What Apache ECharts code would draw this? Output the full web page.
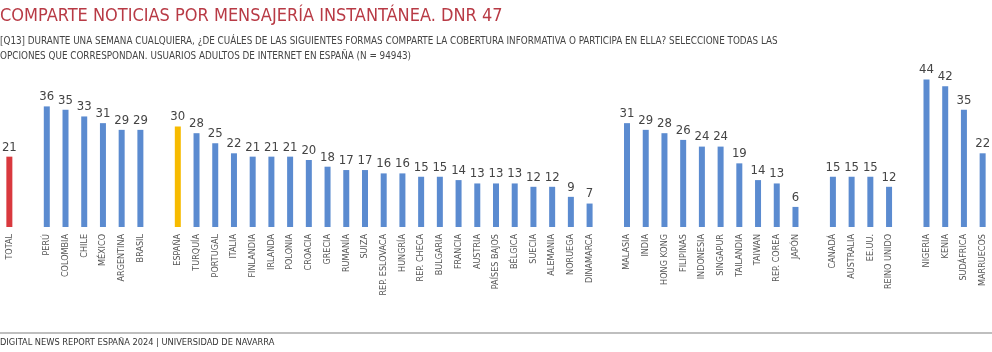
<!DOCTYPE html>
<html>
<head>
<meta charset="utf-8">
<script src="https://cdn.jsdelivr.net/npm/echarts@6/dist/echarts.min.js"></script>
<style>
  html, body { margin: 0; padding: 0; background: #fff; }
  #chart { width: 992px; height: 352px; }
</style>
</head>
<body>
<div id="chart"></div>
<script>
// categorías con huecos ('') entre grupos de países
const categories = [
    'TOTAL', '',
    'PERÚ', 'COLOMBIA', 'CHILE', 'MÉXICO', 'ARGENTINA', 'BRASIL', '',
    'ESPAÑA', 'TURQUÍA', 'PORTUGAL', 'ITALIA', 'FINLANDIA', 'IRLANDA', 'POLONIA', 'CROACIA',
    'GRECIA', 'RUMANÍA', 'SUIZA', 'REP. ESLOVACA', 'HUNGRÍA', 'REP. CHECA', 'BULGARIA', 'FRANCIA',
    'AUSTRIA', 'PAÍSES BAJOS', 'BÉLGICA', 'SUECIA', 'ALEMANIA', 'NORUEGA', 'DINAMARCA', '',
    'MALASIA', 'INDIA', 'HONG KONG', 'FILIPINAS', 'INDONESIA', 'SINGAPUR', 'TAILANDIA', 'TAIWAN',
    'REP. COREA', 'JAPÓN', '',
    'CANADÁ', 'AUSTRALIA', 'EE.UU.', 'REINO UNIDO', '',
    'NIGERIA', 'KENIA', 'SUDÁFRICA', 'MARRUECOS'
];
const values = [
    21, null,
    36, 35, 33, 31, 29, 29, null,
    30, 28, 25, 22, 21, 21, 21, 20,
    18, 17, 17, 16, 16, 15, 15, 14,
    13, 13, 13, 12, 12, 9, 7, null,
    31, 29, 28, 26, 24, 24, 19, 14,
    13, 6, null,
    15, 15, 15, 12, null,
    44, 42, 35, 22
];
const highlight = { 'TOTAL': '#d9393e', 'ESPAÑA': '#f7bb00' };
const barColor = '#5b8bd0';
const font = "'DejaVu Sans Condensed', 'Liberation Sans Narrow', 'Liberation Sans', sans-serif";

const chart = echarts.init(document.getElementById('chart'));

const option = {
    animation: false,
    title: [
        {
            text: 'COMPARTE NOTICIAS POR MENSAJERÍA INSTANTÁNEA. DNR 47',
            left: 0, top: 7, padding: 0,
            textStyle: { color: '#b83a45', fontSize: 18, lineHeight: 18, fontWeight: 'normal', fontFamily: font }
        },
        {
            text: '[Q13] DURANTE UNA SEMANA CUALQUIERA, ¿DE CUÁLES DE LAS SIGUIENTES FORMAS COMPARTE LA COBERTURA INFORMATIVA O PARTICIPA EN ELLA? SELECCIONE TODAS LAS\nOPCIONES QUE CORRESPONDAN. USUARIOS ADULTOS DE INTERNET EN ESPAÑA (N = 94943)',
            left: 0, top: 34, padding: 0,
            textStyle: { color: '#444', fontSize: 9.8, fontWeight: 'normal', lineHeight: 15, fontFamily: font }
        },
        {
            text: 'DIGITAL NEWS REPORT ESPAÑA 2024 | UNIVERSIDAD DE NAVARRA',
            left: 0, top: 338, padding: 0,
            textStyle: { color: '#333', fontSize: 9.2, lineHeight: 10, fontWeight: 'normal', fontFamily: font }
        }
    ],
    graphic: [{
        type: 'line',
        shape: { x1: 0, y1: 333, x2: 992, y2: 333 },
        style: { stroke: '#aaa', lineWidth: 1.5 }
    }],
    grid: { left: 0, right: 0, top: 59.5, bottom: 125, containLabel: false },
    xAxis: {
        type: 'category',
        data: categories,
        axisLine: { show: false },
        axisTick: { show: false },
        axisLabel: {
            interval: 0,
            rotate: 90,
            margin: 7,
            color: '#555',
            fontSize: 9,
            fontFamily: font
        }
    },
    yAxis: {
        type: 'value',
        min: 0,
        max: 50,
        show: false,
        splitLine: { show: false }
    },
    series: [{
        type: 'bar',
        barWidth: 6,
        data: values.map((v, i) => ({
            value: v,
            itemStyle: { color: highlight[categories[i]] || barColor }
        })),
        label: {
            show: true,
            position: 'top',
            distance: 3,
            color: '#444',
            fontSize: 13,
            fontFamily: font
        }
    }]
};
chart.setOption(option);
</script>
</body>
</html>
